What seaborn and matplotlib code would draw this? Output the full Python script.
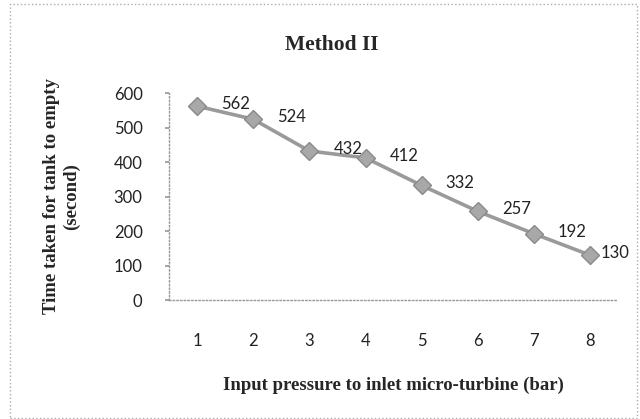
import matplotlib

matplotlib.use("Agg")
import matplotlib.pyplot as plt
import pandas as pd
import seaborn as sns
from matplotlib.patches import Rectangle

# values
pressure = [1, 2, 3, 4, 5, 6, 7, 8]
time_taken = [562, 524, 432, 412, 332, 257, 192, 130]
y_ticks = [0, 100, 200, 300, 400, 500, 600]

df = pd.DataFrame({"pressure": pressure, "time": time_taken})

sns.set_theme(style="white")
plt.rcParams["font.family"] = ["Lato", "DejaVu Sans"]

fig = plt.figure(figsize=(6.4, 4.19), dpi=100)
ax = fig.add_axes([0.264, 0.284, 0.702, 0.494])

sns.lineplot(
    data=df,
    x="pressure",
    y="time",
    ax=ax,
    color="#9a9a9a",
    linewidth=2.6,
    marker="D",
    markersize=9,
    markerfacecolor="#a8a8a8",
    markeredgecolor="#8a8a8a",
    markeredgewidth=1,
)

for i, (x, y) in enumerate(zip(pressure, time_taken)):
    dx = 10 if i == len(pressure) - 1 else 24
    ax.annotate(str(y), (x, y), xytext=(dx, 2), textcoords="offset pixels",
                ha="left", va="center", fontsize=12, color="#222222")

ax.set_xlim(0.5, 8.5)
ax.set_ylim(0, 600)
ax.set_yticks(y_ticks)
ax.set_xticks(pressure)
ax.set_xticks([p + 0.5 for p in pressure[:-1]], minor=True)
ax.tick_params(axis="x", which="major", length=0, pad=24, labelsize=12, labelcolor="#222222")
ax.tick_params(axis="x", which="minor", length=3, color="#999999", direction="out")
ax.tick_params(axis="y", which="major", length=3, color="#999999", pad=16, labelsize=12,
               labelcolor="#222222", left=True)

for side in ["top", "right"]:
    ax.spines[side].set_visible(False)
for side in ["left", "bottom"]:
    ax.spines[side].set_color("#999999")
    ax.spines[side].set_linestyle(":")
    ax.spines[side].set_linewidth(1)

serif = ["Liberation Serif", "DejaVu Serif"]
ax.set_xlabel("Input pressure to inlet micro-turbine (bar)", fontsize=13.5,
              fontweight="bold", family=serif, labelpad=20)
ax.set_ylabel("Time taken for tank to empty\n(second)", fontsize=13.5,
              fontweight="bold", family=serif, labelpad=24, linespacing=1.25)
fig.text(0.518, 0.893, "Method II", ha="center", va="center", fontsize=15.5,
         fontweight="bold", family=serif)

fig.patches.append(Rectangle((10 / 640, 0.002), 627 / 640, 0.988, transform=fig.transFigure,
                             fill=False, edgecolor="#aaaaaa", linestyle=":", linewidth=1))

fig.savefig("out.png", dpi=100)
